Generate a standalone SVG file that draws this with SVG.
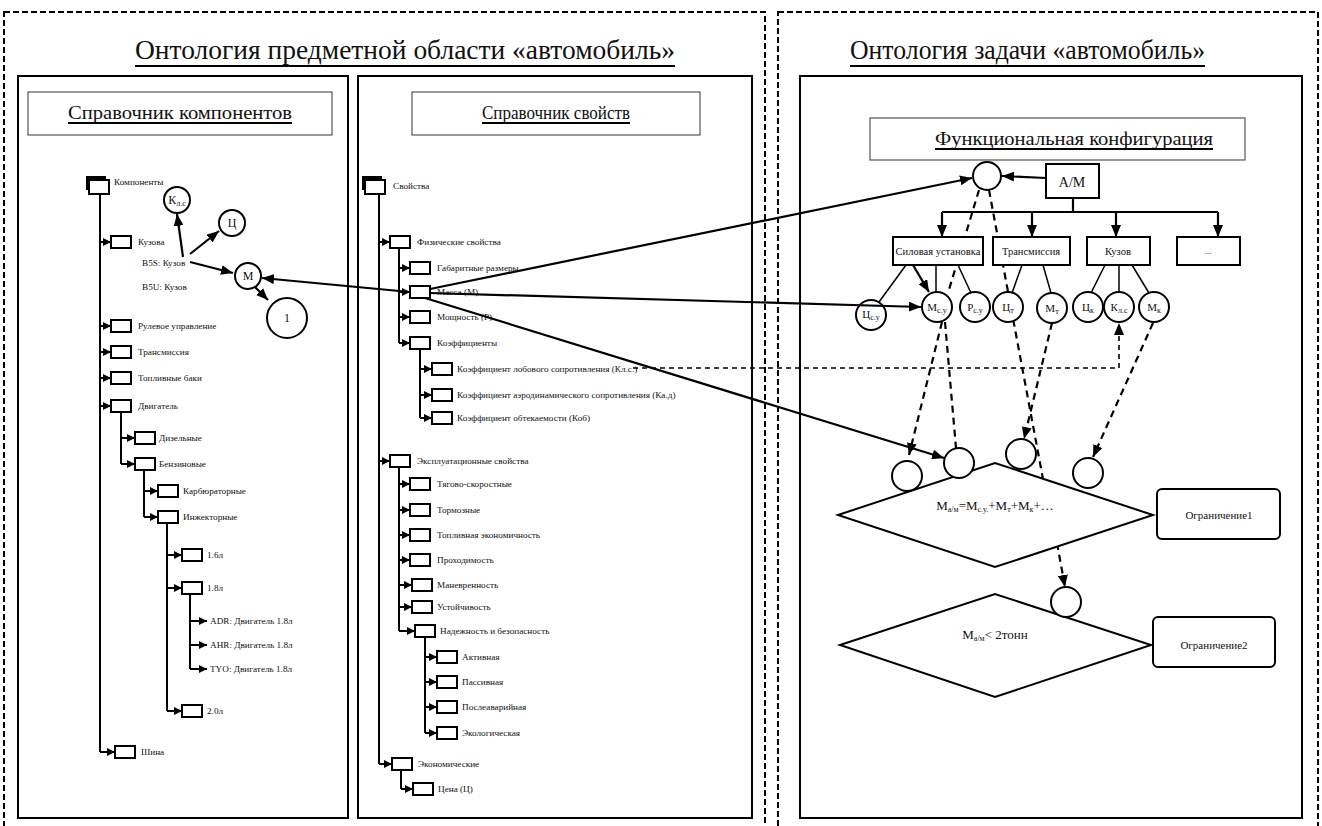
<svg xmlns="http://www.w3.org/2000/svg" width="1322" height="826" viewBox="0 0 1322 826">
<defs>
<style>
text{font-family:"Liberation Serif","Times New Roman",serif;fill:#111}
.t{font-size:9.2px}
.tl{stroke:#000;stroke-width:2;fill:none}
.tb{fill:#fff;stroke:#000;stroke-width:2}
.ta{stroke:#000;stroke-width:2;marker-end:url(#ta)}
.pan{fill:#fff;stroke:#000;stroke-width:2}
.dash{fill:none;stroke:#000;stroke-width:2;stroke-dasharray:6 3}
.hd{fill:#fff;stroke:#555;stroke-width:1.2}
.c{fill:#fff;stroke:#000;stroke-width:2}
.cn{stroke:#000;stroke-width:2.2;fill:none}
.thin{stroke:#000;stroke-width:1.5;fill:none}
.dl{stroke:#000;stroke-width:2.2;fill:none;stroke-dasharray:7 5}
.ul{stroke:#000;stroke-width:2}
.ct{font-size:12px;text-anchor:middle}
.sub{font-size:8px}
</style>
<marker id="ta" viewBox="0 0 8 8" refX="8" refY="4" markerWidth="8" markerHeight="8" markerUnits="userSpaceOnUse" orient="auto"><path d="M0,0 L8,4 L0,8 z"/></marker>
<marker id="ca" viewBox="0 0 12 10" refX="12" refY="5" markerWidth="12" markerHeight="10" markerUnits="userSpaceOnUse" orient="auto"><path d="M0,0 L12,5 L0,10 z"/></marker>
</defs>
<rect width="1322" height="826" fill="#fff"/>

<!-- outer dashed frames -->
<g id="frames">
<rect class="dash" x="4" y="12" width="761" height="830"/>
<rect class="dash" x="778" y="12" width="540" height="830"/>
<text x="135" y="59" font-size="28" textLength="540" lengthAdjust="spacingAndGlyphs">Онтология предметной области «автомобиль»</text>
<line class="ul" x1="135" y1="66" x2="675" y2="66"/>
<text x="850" y="59" font-size="28" textLength="355" lengthAdjust="spacingAndGlyphs">Онтология задачи «автомобиль»</text>
<line class="ul" x1="850" y1="66" x2="1205" y2="66"/>
<rect class="pan" x="18" y="76" width="330" height="742"/>
<rect class="pan" x="358" y="76" width="394" height="742"/>
<rect class="pan" x="800" y="76" width="502" height="742"/>
</g>

<g id="hdr-components">
<rect class="hd" x="28" y="92" width="304" height="43"/>
<text x="68" y="119" font-size="19" textLength="224" lengthAdjust="spacingAndGlyphs">Справочник компонентов</text>
<line class="ul" x1="68" y1="123" x2="292" y2="123"/>
</g>
<g id="hdr-properties">
<rect class="hd" x="412" y="92" width="288" height="43"/>
<text x="482" y="119" font-size="19" textLength="148" lengthAdjust="spacingAndGlyphs">Справочник свойств</text>
<line class="ul" x1="482" y1="123" x2="630" y2="123"/>
</g>
<g id="hdr-config">
<rect class="hd" x="870" y="118" width="375" height="42"/>
<text x="935" y="145" font-size="18" textLength="278" lengthAdjust="spacingAndGlyphs">Функциональная конфигурация</text>
<line class="ul" x1="935" y1="149" x2="1213" y2="149"/>
</g>

<!-- Components tree -->
<g id="tree-components">
<path class="tl" d="M100,195 V752 M121,412 V464 M144,470 V517 M167,523 V711 M190,594 V669"/>
<rect x="86" y="176" width="20" height="14" fill="#000"/>
<rect class="tb" x="89" y="180" width="20" height="14" stroke-width="2.5"/>
<text class="t" x="114" y="185">Компоненты</text>
<g>
<line class="ta" x1="100" y1="242" x2="111" y2="242"/><rect class="tb" x="111" y="236" width="20" height="12"/><text class="t" x="138" y="245">Кузова</text>
<text class="t" x="142" y="266">B5S: Кузов</text>
<text class="t" x="142" y="290">B5U: Кузов</text>
<line class="ta" x1="100" y1="326" x2="111" y2="326"/><rect class="tb" x="111" y="320" width="20" height="12"/><text class="t" x="138" y="329">Рулевое управление</text>
<line class="ta" x1="100" y1="352" x2="111" y2="352"/><rect class="tb" x="111" y="346" width="20" height="12"/><text class="t" x="138" y="355">Трансмиссия</text>
<line class="ta" x1="100" y1="378" x2="111" y2="378"/><rect class="tb" x="111" y="372" width="20" height="12"/><text class="t" x="138" y="381">Топливные баки</text>
<line class="ta" x1="100" y1="406" x2="111" y2="406"/><rect class="tb" x="111" y="400" width="20" height="12"/><text class="t" x="138" y="409">Двигатель</text>
<line class="ta" x1="121" y1="438" x2="135" y2="438"/><rect class="tb" x="135" y="432" width="20" height="12"/><text class="t" x="159" y="441">Дизельные</text>
<line class="ta" x1="121" y1="464" x2="135" y2="464"/><rect class="tb" x="135" y="458" width="20" height="12"/><text class="t" x="159" y="467">Бензиновые</text>
<line class="ta" x1="144" y1="491" x2="158" y2="491"/><rect class="tb" x="158" y="485" width="20" height="12"/><text class="t" x="183" y="494">Карбюраторные</text>
<line class="ta" x1="144" y1="517" x2="158" y2="517"/><rect class="tb" x="158" y="511" width="20" height="12"/><text class="t" x="183" y="520">Инжекторные</text>
<line class="ta" x1="167" y1="555" x2="182" y2="555"/><rect class="tb" x="182" y="549" width="20" height="12"/><text class="t" x="207" y="558">1.6л</text>
<line class="ta" x1="167" y1="588" x2="182" y2="588"/><rect class="tb" x="182" y="582" width="20" height="12"/><text class="t" x="207" y="591">1.8л</text>
<line class="ta" x1="190" y1="621" x2="207" y2="621"/><text class="t" x="210" y="624">ADR: Двигатель 1.8л</text>
<line class="ta" x1="190" y1="645" x2="207" y2="645"/><text class="t" x="210" y="648">AHR: Двигатель 1.8л</text>
<line class="ta" x1="190" y1="669" x2="207" y2="669"/><text class="t" x="210" y="672">TYO: Двигатель 1.8л</text>
<line class="ta" x1="167" y1="711" x2="182" y2="711"/><rect class="tb" x="182" y="705" width="20" height="12"/><text class="t" x="207" y="714">2.0л</text>
<line class="ta" x1="100" y1="752" x2="115" y2="752"/><rect class="tb" x="115" y="746" width="20" height="12"/><text class="t" x="141" y="755">Шина</text>
</g>
</g>

<!-- Properties tree -->
<g id="tree-properties">
<path class="tl" d="M379,195 V764 M399,248 V343 M420,349 V418 M399,467 V631 M425,637 V733 M401,770 V789"/>
<rect x="362" y="176" width="20" height="14" fill="#000"/>
<rect class="tb" x="365" y="180" width="20" height="14" stroke-width="2.5"/>
<text class="t" x="393" y="189">Свойства</text>
<line class="ta" x1="379" y1="242" x2="390" y2="242"/><rect class="tb" x="390" y="236" width="20" height="12"/><text class="t" x="417" y="245">Физические свойства</text>
<line class="ta" x1="399" y1="268" x2="410" y2="268"/><rect class="tb" x="410" y="262" width="20" height="12"/><text class="t" x="437" y="271">Габаритные размеры</text>
<line class="ta" x1="399" y1="292" x2="410" y2="292"/><rect class="tb" x="410" y="286" width="20" height="12"/><text class="t" x="437" y="295">Масса (М)</text>
<line class="ta" x1="399" y1="317" x2="410" y2="317"/><rect class="tb" x="410" y="311" width="20" height="12"/><text class="t" x="437" y="320">Мощность (Р)</text>
<line class="ta" x1="399" y1="343" x2="410" y2="343"/><rect class="tb" x="410" y="337" width="20" height="12"/><text class="t" x="437" y="346">Коэффициенты</text>
<line class="ta" x1="420" y1="369" x2="432" y2="369"/><rect class="tb" x="432" y="363" width="20" height="12"/><text class="t" x="457" y="372">Коэффициент лобового сопротивления (Кл.с.)</text>
<line class="ta" x1="420" y1="395" x2="432" y2="395"/><rect class="tb" x="432" y="389" width="20" height="12"/><text class="t" x="457" y="398">Коэффициент аэродинамического сопротивления (Ка.д)</text>
<line class="ta" x1="420" y1="418" x2="432" y2="418"/><rect class="tb" x="432" y="412" width="20" height="12"/><text class="t" x="457" y="421">Коэффициент обтекаемости (Коб)</text>
<line class="ta" x1="379" y1="461" x2="390" y2="461"/><rect class="tb" x="390" y="455" width="20" height="12"/><text class="t" x="417" y="464">Эксплуатационные свойства</text>
<line class="ta" x1="399" y1="484" x2="410" y2="484"/><rect class="tb" x="410" y="478" width="20" height="12"/><text class="t" x="437" y="487">Тягово-скоростные</text>
<line class="ta" x1="399" y1="510" x2="410" y2="510"/><rect class="tb" x="410" y="504" width="20" height="12"/><text class="t" x="437" y="513">Тормозные</text>
<line class="ta" x1="399" y1="535" x2="410" y2="535"/><rect class="tb" x="410" y="529" width="20" height="12"/><text class="t" x="437" y="538">Топливная экономичность</text>
<line class="ta" x1="399" y1="560" x2="410" y2="560"/><rect class="tb" x="410" y="554" width="20" height="12"/><text class="t" x="437" y="563">Проходимость</text>
<line class="ta" x1="399" y1="585" x2="412" y2="585"/><rect class="tb" x="412" y="579" width="20" height="12"/><text class="t" x="437" y="588">Маневренность</text>
<line class="ta" x1="399" y1="607" x2="412" y2="607"/><rect class="tb" x="412" y="601" width="20" height="12"/><text class="t" x="437" y="610">Устойчивость</text>
<line class="ta" x1="399" y1="631" x2="415" y2="631"/><rect class="tb" x="415" y="625" width="20" height="12"/><text class="t" x="440" y="634">Надежность и безопасность</text>
<line class="ta" x1="425" y1="657" x2="437" y2="657"/><rect class="tb" x="437" y="651" width="20" height="12"/><text class="t" x="462" y="660">Активная</text>
<line class="ta" x1="425" y1="682" x2="437" y2="682"/><rect class="tb" x="437" y="676" width="20" height="12"/><text class="t" x="462" y="685">Пассивная</text>
<line class="ta" x1="425" y1="707" x2="437" y2="707"/><rect class="tb" x="437" y="701" width="20" height="12"/><text class="t" x="462" y="710">Послеаварийная</text>
<line class="ta" x1="425" y1="733" x2="437" y2="733"/><rect class="tb" x="437" y="727" width="20" height="12"/><text class="t" x="462" y="736">Экологическая</text>
<line class="ta" x1="379" y1="764" x2="392" y2="764"/><rect class="tb" x="392" y="758" width="20" height="12"/><text class="t" x="418" y="767">Экономические</text>
<line class="ta" x1="401" y1="789" x2="413" y2="789"/><rect class="tb" x="413" y="783" width="20" height="12"/><text class="t" x="438" y="792">Цена (Ц)</text>
</g>

<!-- connectors -->
<g id="connectors">
<line class="cn" x1="183" y1="257" x2="177" y2="214" marker-end="url(#ca)"/>
<line class="cn" x1="190" y1="254" x2="219" y2="231" marker-end="url(#ca)"/>
<line class="cn" x1="190" y1="262" x2="233" y2="273" marker-end="url(#ca)"/>
<line class="cn" x1="255" y1="287" x2="268" y2="300" marker-end="url(#ca)"/>
<line class="cn" x1="410" y1="292" x2="262" y2="278" marker-end="url(#ca)"/>
<line class="cn" x1="430" y1="289" x2="972" y2="178" marker-end="url(#ca)"/>
<line class="cn" x1="430" y1="293" x2="921" y2="307" marker-end="url(#ca)"/>
<line class="cn" x1="425" y1="298" x2="944" y2="458" marker-end="url(#ca)"/>
<line class="cn" x1="1046" y1="178" x2="1002" y2="176" marker-end="url(#ca)"/>
<path class="cn" d="M1073,198 V212 M942,212 H1218"/>
<line class="cn" x1="942" y1="212" x2="942" y2="237" marker-end="url(#ca)"/>
<line class="cn" x1="1032" y1="212" x2="1032" y2="237" marker-end="url(#ca)"/>
<line class="cn" x1="1116" y1="212" x2="1116" y2="237" marker-end="url(#ca)"/>
<line class="cn" x1="1218" y1="212" x2="1218" y2="237" marker-end="url(#ca)"/>
<line class="thin" x1="906" y1="265" x2="879" y2="302"/>
<line class="cn" x1="913" y1="265" x2="929" y2="292" marker-end="url(#ca)"/>
<line class="thin" x1="936" y1="265" x2="936" y2="292"/>
<line class="thin" x1="958" y1="265" x2="971" y2="293"/>
<line class="thin" x1="1022" y1="265" x2="1012" y2="293"/>
<line class="thin" x1="1043" y1="265" x2="1051" y2="293"/>
<line class="thin" x1="1105" y1="265" x2="1091" y2="293"/>
<line class="thin" x1="1119" y1="265" x2="1119" y2="292"/>
<line class="thin" x1="1132" y1="265" x2="1149" y2="293"/>
<line class="dl" x1="979" y1="190" x2="948" y2="293"/>
<line class="dl" x1="989" y1="190" x2="1043" y2="479"/>
<line class="dl" x1="942" y1="322" x2="909" y2="455" marker-end="url(#ca)"/>
<line class="dl" x1="945" y1="322" x2="956" y2="448"/>
<line class="dl" x1="1052" y1="323" x2="1024" y2="439" marker-end="url(#ca)"/>
<line class="dl" x1="1153" y1="323" x2="1093" y2="457" marker-end="url(#ca)"/>
<path d="M633,368 H1119 V323" fill="none" stroke="#000" stroke-width="1.6" stroke-dasharray="5 4" marker-end="url(#ca)"/>
<line class="dl" x1="1057" y1="543" x2="1065" y2="587" marker-end="url(#ca)"/>
</g>

<!-- left graph nodes -->
<g id="n-klc"><circle class="c" cx="177" cy="200" r="13"/><text x="177" y="204" font-size="12" text-anchor="middle">К<tspan class="sub" dy="2">л.с</tspan></text></g>
<g id="n-c"><circle class="c" cx="232" cy="223" r="13"/><text class="ct" x="232" y="227">Ц</text></g>
<g id="n-m"><circle class="c" cx="248" cy="276" r="13"/><text class="ct" x="248" y="280">М</text></g>
<g id="n-1"><circle class="c" cx="287" cy="318" r="20"/><text class="ct" x="287" y="322" font-family="Liberation Sans,sans-serif">1</text></g>

<!-- right graph -->
<g id="n-top"><circle class="c" cx="987" cy="176" r="14"/></g>
<g id="n-am"><rect class="c" x="1046" y="164" width="53" height="34"/><text x="1072" y="187" font-size="14" text-anchor="middle" font-family="Liberation Sans,sans-serif">А/М</text></g>
<g id="n-su"><rect class="c" x="893" y="237" width="90" height="28" stroke-width="1.8"/><text x="938" y="255" font-size="10.5" text-anchor="middle">Силовая установка</text></g>
<g id="n-tr"><rect class="c" x="993" y="237" width="77" height="28" stroke-width="1.8"/><text x="1031" y="255" font-size="10.5" text-anchor="middle">Трансмиссия</text></g>
<g id="n-kz"><rect class="c" x="1087" y="237" width="63" height="28" stroke-width="1.8"/><text x="1118" y="255" font-size="10.5" text-anchor="middle">Кузов</text></g>
<g id="n-etc"><rect class="c" x="1177" y="237" width="63" height="28" stroke-width="1.8"/><text x="1208" y="254" font-size="9" text-anchor="middle" fill="#666">...</text></g>

<g id="n-csu"><circle cx="871" cy="315" r="15" fill="none" stroke="#000" stroke-width="2"/><text x="871" y="318" font-size="11" text-anchor="middle">Ц<tspan class="sub" dy="2">с.у</tspan></text></g>
<g id="n-msu"><circle class="c" cx="937" cy="307" r="15"/><text x="937" y="311" font-size="11" text-anchor="middle">М<tspan class="sub" dy="2">с.у</tspan></text></g>
<g id="n-psu"><circle class="c" cx="975" cy="307" r="15"/><text x="975" y="311" font-size="11" text-anchor="middle">Р<tspan class="sub" dy="2">с.у</tspan></text></g>
<g id="n-ct"><circle class="c" cx="1008" cy="307" r="15"/><text x="1008" y="311" font-size="11" text-anchor="middle">Ц<tspan class="sub" dy="2">т</tspan></text></g>
<g id="n-mt"><circle class="c" cx="1052" cy="308" r="15"/><text x="1052" y="312" font-size="11" text-anchor="middle">М<tspan class="sub" dy="2">т</tspan></text></g>
<g id="n-ck"><circle class="c" cx="1088" cy="307" r="15"/><text x="1088" y="311" font-size="11" text-anchor="middle">Ц<tspan class="sub" dy="2">к</tspan></text></g>
<g id="n-kk"><circle class="c" cx="1119" cy="307" r="15"/><text x="1119" y="311" font-size="11" text-anchor="middle">К<tspan class="sub" dy="2">л.с</tspan></text></g>
<g id="n-mk"><circle class="c" cx="1154" cy="307" r="15"/><text x="1154" y="311" font-size="11" text-anchor="middle">М<tspan class="sub" dy="2">к</tspan></text></g>

<g id="n-d1"><polygon class="c" points="838,515 995,463 1153,515 995,567"/><text x="995" y="510" font-size="13" text-anchor="middle">М<tspan class="sub" dy="2">а/м</tspan><tspan dy="-2">=М</tspan><tspan class="sub" dy="2">с.у.</tspan><tspan dy="-2">+М</tspan><tspan class="sub" dy="2">т</tspan><tspan dy="-2">+М</tspan><tspan class="sub" dy="2">к</tspan><tspan dy="-2">+…</tspan></text></g>
<g id="n-a"><circle class="c" cx="907" cy="476" r="15"/></g>
<g id="n-b"><circle class="c" cx="959" cy="463" r="15"/></g>
<g id="n-cc"><circle class="c" cx="1021" cy="454" r="15"/></g>
<g id="n-d"><circle class="c" cx="1088" cy="473" r="15"/></g>
<g id="n-lim1"><rect class="c" x="1157" y="489" width="123" height="50" rx="5" stroke-width="1.8"/><text x="1219" y="519" font-size="11" text-anchor="middle">Ограничение1</text></g>
<g id="n-d2"><polygon class="c" points="840,645 995,594 1151,645 995,697"/><text x="995" y="639" font-size="13" text-anchor="middle">М<tspan class="sub" dy="2">а/м</tspan><tspan dy="-2">&lt; 2тонн</tspan></text></g>
<g id="n-e"><circle class="c" cx="1066" cy="602" r="15"/></g>
<g id="n-lim2"><rect class="c" x="1153" y="617" width="122" height="50" rx="5" stroke-width="1.8"/><text x="1214" y="649" font-size="11" text-anchor="middle">Ограничение2</text></g>
</svg>
